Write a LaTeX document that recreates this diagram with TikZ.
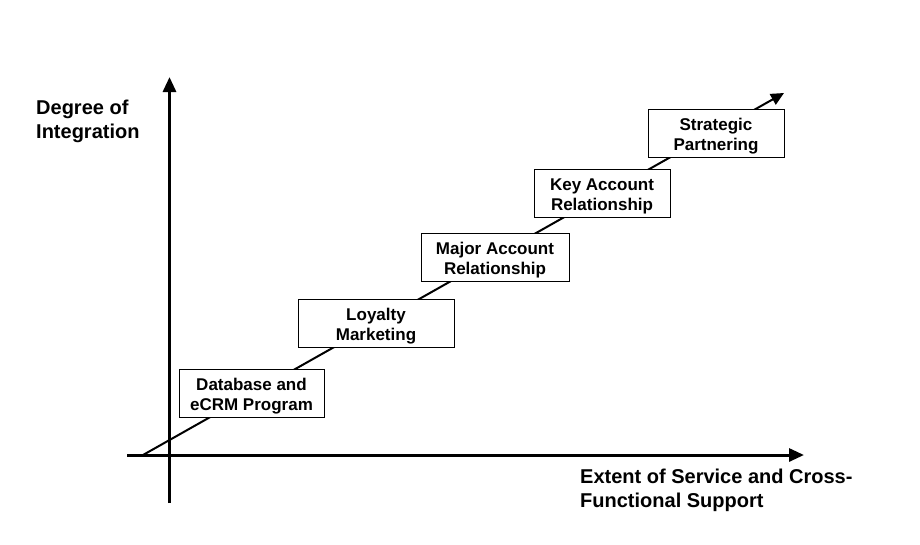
\documentclass[tikz,border=0pt]{standalone}
\usepackage{fontspec}
\setmainfont{Liberation Sans}
\usetikzlibrary{arrows.meta}

% two centred lines, set a little low in the box
\newcommand{\stagelines}[2]{\raisebox{0pt}[\dimexpr\height+6pt\relax]{\begin{tabular}{@{}c@{}}#1\\#2\end{tabular}}}

\begin{document}
\begin{tikzpicture}[x=1pt, y=-1pt,
    every node/.style={font=\bfseries},
    stagebox/.style={draw, fill=white, line width=1pt,
        inner sep=0pt, minimum width=#1, minimum height=48pt,
        font=\fontsize{17}{20}\selectfont\bfseries},
    axislabel/.style={align=left, anchor=north west, inner sep=0pt,
        font=\fontsize{20}{24}\selectfont\bfseries}]
        \useasboundingbox (0,0) rectangle (920,544);
        % axes
        \coordinate (yorg) at (169.5,503);
        \coordinate (ytip) at (169.5,77);
        \coordinate (xorg) at (127,455);
        \coordinate (xtip) at (804,455);
        \draw[line width=3pt, -{Triangle[length=15pt, width=13pt]}] (yorg) -- (ytip);
        \draw[line width=3pt, -{Triangle[length=15pt, width=13pt]}] (xorg) -- (xtip);
        % growth line
        \coordinate (lstart) at (143,455);
        \coordinate (lend) at (784,93);
        \draw[line width=2pt, -{Triangle[length=13pt, width=12pt]}] (lstart) -- (lend);
        % stages
        \node[stagebox=145pt] (db) at (251.5,393) {\stagelines{Database and}{eCRM Program}};
        \node[stagebox=156pt] (loyal) at (376,323) {\stagelines{Loyalty}{Marketing}};
        \node[stagebox=148pt] (major) at (495,257) {\stagelines{Major Account}{Relationship}};
        \node[stagebox=136pt] (key) at (602,193) {\stagelines{Key Account}{Relationship}};
        \node[stagebox=136pt] (strat) at (716,133) {\stagelines{Strategic}{Partnering}};
        % labels
        \node[axislabel] (ylab) at (36,100) {Degree of\\Integration};
        \node[axislabel] (xlab) at (580,469) {Extent of Service and Cross-\\Functional Support};
\end{tikzpicture}
\end{document}
